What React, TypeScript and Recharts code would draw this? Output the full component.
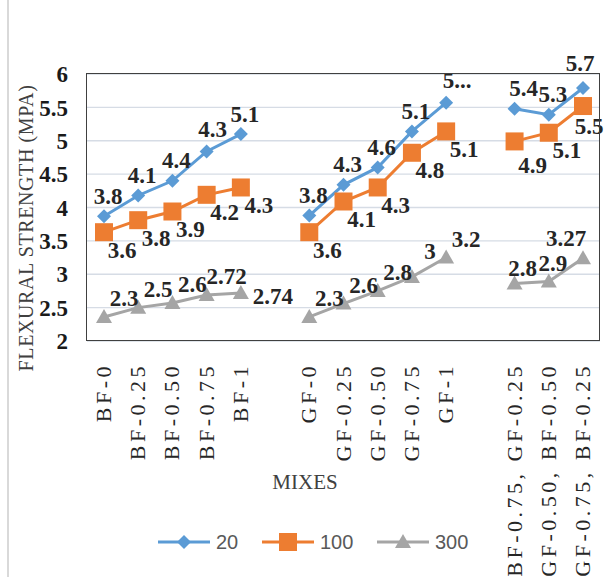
import React from 'react';
import { LineChart, Line, XAxis, YAxis, CartesianGrid, Legend, LabelList } from 'recharts';

// categories (blank slots separate the three groups)
const mixes = [
  'BF-0', 'BF-0.25', 'BF-0.50', 'BF-0.75', 'BF-1', '',
  'GF-0', 'GF-0.25', 'GF-0.50', 'GF-0.75', 'GF-1', '',
  'BF-0.75, GF-0.25', 'GF-0.50, BF-0.50', 'GF-0.75, BF-0.25',
];

const s20 = [3.87, 4.18, 4.4, 4.84, 5.1, null, 3.88, 4.34, 4.6, 5.14, 5.57, null, 5.48, 5.39, 5.79];
const s100 = [3.63, 3.81, 3.94, 4.19, 4.3, null, 3.63, 4.09, 4.3, 4.82, 5.14, null, 4.99, 5.12, 5.52];
const s300 = [2.36, 2.5, 2.57, 2.69, 2.72, null, 2.36, 2.56, 2.75, 2.96, 3.25, null, 2.86, 2.89, 3.24];

// data label text as printed on the chart
const l20 = ['3.8', '4.1', '4.4', '4.3', '5.1', '', '3.8', '4.3', '4.6', '5.1', '5...', '', '5.4', '5.3', '5.7'];
const l100 = ['3.6', '3.8', '3.9', '4.2', '4.3', '', '3.6', '4.1', '4.3', '4.8', '5.1', '', '4.9', '5.1', '5.5'];
const l300 = ['2.3', '2.5', '2.6', '2.72', '2.74', '', '2.3', '2.6', '2.8', '3', '3.2', '', '2.8', '2.9', '3.27'];

const yTicks = [2, 2.5, 3, 3.5, 4, 4.5, 5, 5.5, 6];

const data = mixes.map((mix, i) => ({
  mix,
  s20: s20[i], s100: s100[i], s300: s300[i],
  l20: l20[i], l100: l100[i], l300: l300[i],
}));

const BLUE = '#5b9bd5';
const ORANGE = '#ed7d31';
const GREY = '#a5a5a5';
const SERIF = '"Liberation Serif", "Times New Roman", serif';

const marker = (kind: string, cx: number, cy: number, color: string, key?: any) => {
  if (cx == null || cy == null || isNaN(cx) || isNaN(cy)) return <g key={key} />;
  if (kind === 'diamond') {
    const r = 7;
    return <path key={key} d={`M${cx},${cy - r}L${cx + r},${cy}L${cx},${cy + r}L${cx - r},${cy}Z`} fill={color} />;
  }
  if (kind === 'square') {
    const h = 9;
    return <rect key={key} x={cx - h} y={cy - h} width={h * 2} height={h * 2} fill={color} />;
  }
  return <path key={key} d={`M${cx},${cy - 8}L${cx + 8},${cy + 6}L${cx - 8},${cy + 6}Z`} fill={color} />;
};

// label placement (Excel put a few labels off the default side)
const makeLabel = (dx: number, dy: number, special: Record<number, number[]> = {}) => (props: any) => {
  const { x, y, value, index } = props;
  if (!value || x == null || y == null) return null;
  const [ox, oy] = special[index] || [dx, dy];
  return (
    <text key={`lb-${index}`} x={x + ox} y={y + oy} textAnchor="middle" dominantBaseline="central"
      fontFamily={SERIF} fontWeight="bold" fontSize={23} fill="#262626">
      {value}
    </text>
  );
};

const MixTick = (props: any) => {
  const { x, y, payload } = props;
  return (
    <text transform={`translate(${x + 7},${y + 14}) rotate(-90)`} textAnchor="end"
      fontFamily={SERIF} fontSize={22} letterSpacing={3.5} fill="#262626">
      {payload.value}
    </text>
  );
};

const LegendBox = () => {
  const items = [
    { name: '20', color: BLUE, kind: 'diamond', x: 8 },
    { name: '100', color: ORANGE, kind: 'square', x: 112 },
    { name: '300', color: GREY, kind: 'triangle', x: 227 },
  ];
  return (
    <svg width={340} height={32}>
      {items.map((it) => (
        <g key={it.name}>
          <line x1={it.x} x2={it.x + 52} y1={16} y2={16} stroke={it.color} strokeWidth={3} />
          {marker(it.kind, it.x + 26, 16, it.color)}
          <text x={it.x + 58} y={16} dominantBaseline="central" fontFamily='"Liberation Sans", Arial, sans-serif'
            fontSize={20} fill="#595959">{it.name}</text>
        </g>
      ))}
    </svg>
  );
};

export default function App() {
  return (
    <div style={{ position: 'absolute', left: 0, top: 0, width: 607, height: 577, background: '#fff', overflow: 'hidden' }}>
      <div style={{ position: 'absolute', left: 7, top: 0, width: 2, height: 577, background: '#d9d9d9' }} />
      <LineChart width={607} height={577} data={data} margin={{ top: 74, right: 7, left: 0, bottom: 0 }}>
        <CartesianGrid vertical={false} stroke="#d6dce5" strokeWidth={1.3} />
        <XAxis dataKey="mix" interval={0} height={236} tickLine={false} axisLine={false}
          padding={{ left: 17, right: 17 }}
          tick={<MixTick />}
          label={{
            content: () => (
              <text x={305} y={482} textAnchor="middle" dominantBaseline="central" fontFamily={SERIF} fontSize={21} fill="#404040">MIXES</text>
            ),
          }} />
        <YAxis domain={[2, 6]} ticks={yTicks} width={87} tickLine={false} tickMargin={13} axisLine={false}
          tick={{ fontFamily: SERIF, fontWeight: 'bold', fontSize: 23, fill: '#1a1a1a' }}
          label={{
            content: () => (
              <text transform="translate(33,228) rotate(-90)" textAnchor="middle" fontFamily={SERIF} fontSize={20}
                letterSpacing={0.6} fill="#404040">FLEXURAL STRENGTH (MPA)</text>
            ),
          }} />
        <Legend layout="horizontal" verticalAlign="middle" align="center"
          wrapperStyle={{ top: 526, left: 150, width: 340, height: 32 }} content={<LegendBox />} />
        <Line dataKey="s300" name="300" stroke={GREY} strokeWidth={3} isAnimationActive={false}
          dot={(p: any) => marker('triangle', p.cx, p.cy, GREY, p.key)} activeDot={false}>
          <LabelList dataKey="l300"
            content={makeLabel(20, -18, { 4: [32, 4], 9: [18, -25], 12: [8, -15], 13: [4, -18], 14: [-17, -20] })} />
        </Line>
        <Line dataKey="s100" name="100" stroke={ORANGE} strokeWidth={3} isAnimationActive={false}
          dot={(p: any) => marker('square', p.cx, p.cy, ORANGE, p.key)} activeDot={false}>
          <LabelList dataKey="l100" content={makeLabel(18, 18, { 12: [18, 24], 14: [6, 20] })} />
        </Line>
        <Line dataKey="s20" name="20" stroke={BLUE} strokeWidth={3} isAnimationActive={false}
          dot={(p: any) => marker('diamond', p.cx, p.cy, BLUE, p.key)} activeDot={false}>
          <LabelList dataKey="l20" content={makeLabel(4, -20, { 3: [6, -22], 10: [11, -22], 12: [9, -20], 14: [-3, -25] })} />
        </Line>
      </LineChart>
      {/* plot frame */}
      <div style={{ position: 'absolute', left: 86, top: 73, width: 514, height: 268, border: '1.3px solid #404040', boxSizing: 'border-box', pointerEvents: 'none' }} />
    </div>
  );
}
